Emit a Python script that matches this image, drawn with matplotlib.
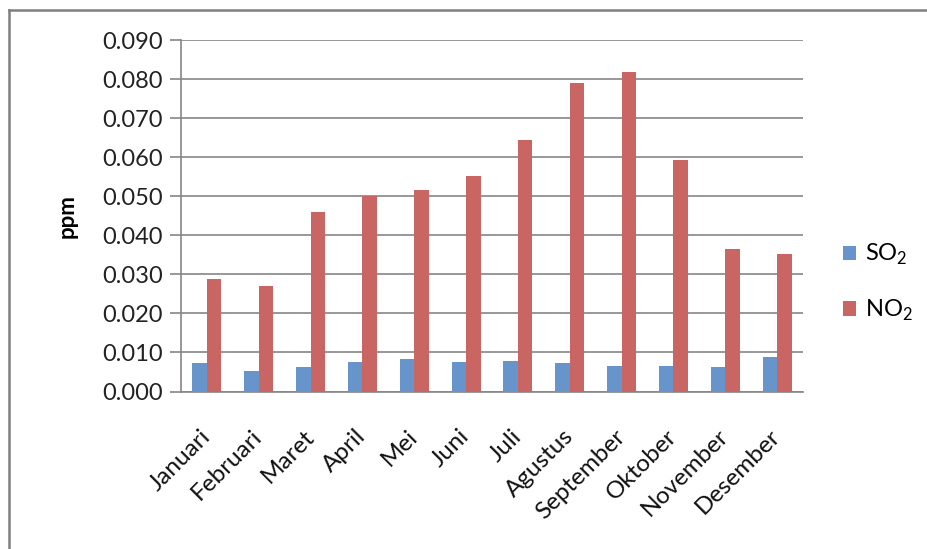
import matplotlib.pyplot as plt
import numpy as np
from matplotlib.lines import Line2D

bulan = ["Januari", "Februari", "Maret", "April", "Mei", "Juni", "Juli",
         "Agustus", "September", "Oktober", "November", "Desember"]
so2 = [0.0072, 0.0053, 0.0063, 0.0076, 0.0082, 0.0076, 0.0079,
       0.0072, 0.0066, 0.0066, 0.0063, 0.0089]
no2 = [0.0289, 0.0270, 0.0460, 0.0500, 0.0516, 0.0552, 0.0645,
       0.0789, 0.0819, 0.0592, 0.0365, 0.0352]
yticks = [0.0, 0.01, 0.02, 0.03, 0.04, 0.05, 0.06, 0.07, 0.08, 0.09]

plt.rcParams["font.family"] = ["Lato", "DejaVu Sans"]
plt.rcParams["mathtext.fontset"] = "custom"
plt.rcParams["mathtext.rm"] = "Lato"

fig = plt.figure(figsize=(9.28, 5.49), dpi=100)
ax = fig.add_axes([181 / 928, 1 - 391.5 / 549, 622 / 928, 351.5 / 549])

# chart frame (top and left edges only, the rest runs off the page)
fy = 1 - 9.5 / 549
fx = 9.5 / 928
fig.lines.append(Line2D([fx, 1], [fy, fy], transform=fig.transFigure,
                        color="#7f7f7f", linewidth=1.8))
fig.lines.append(Line2D([fx, fx], [0, fy], transform=fig.transFigure,
                        color="#7f7f7f", linewidth=1.8))

x = np.arange(len(bulan))
w = 0.28
ax.bar(x - w / 2, so2, w, color="#6794CA", label="SO$_2$", zorder=3)
ax.bar(x + w / 2, no2, w, color="#C96562", label="NO$_2$", zorder=3)

ax.set_xlim(-0.5, len(bulan) - 0.5)
ax.set_ylim(0, 0.09)
ax.set_yticks(yticks)
ax.set_yticklabels([f"{v:.3f}" for v in yticks], fontsize=17, color="#222222")
ax.set_xticks(x)
ax.set_xticklabels(bulan, rotation=45, ha="right", va="center",
                   rotation_mode="anchor", fontsize=17.5, color="#111111")
ax.tick_params(axis="x", length=0, pad=30)
ax.tick_params(axis="y", length=8, width=1.2, color="#868686", pad=5)
ax.grid(axis="y", color="#868686", linewidth=1.2, zorder=0)

for s in ["top", "right"]:
    ax.spines[s].set_visible(False)
for s in ["left", "bottom"]:
    ax.spines[s].set_color("#868686")
    ax.spines[s].set_linewidth(1.2)

ax.set_ylabel("ppm", fontsize=16, fontweight="bold", labelpad=18)

ax.legend(loc="center left", bbox_to_anchor=(1.03, 0.31), frameon=False,
          fontsize=17, handlelength=0.55, handleheight=0.55,
          labelspacing=1.3, handletextpad=0.4)

fig.savefig("out.png", dpi=100)
